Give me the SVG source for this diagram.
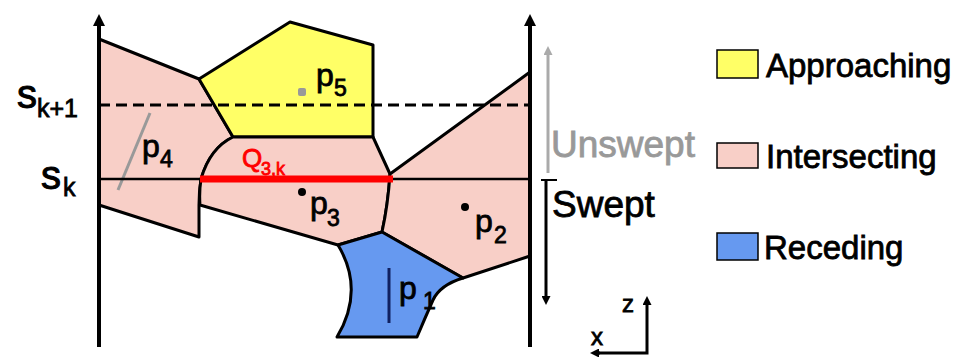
<svg xmlns="http://www.w3.org/2000/svg" width="959" height="357" viewBox="0 0 959 357">
<style>
  text { font-family: "Liberation Sans", Arial, sans-serif; fill: #000; stroke: #000; stroke-width: 0.8; }
  .reg { stroke: #000; stroke-width: 3; stroke-linejoin: round; }
  .pink { fill: #f8cfc7; }
  .yellow { fill: #ffff66; }
  .blue { fill: #6699f0; }
  .axis { stroke: #000; stroke-width: 4; fill: none; }
  .big { font-size: 40px; stroke-width: 1; }
  .sub { font-size: 25px; }
  .p { font-size: 32px; }
  .ps { font-size: 23px; }
  .leg { font-size: 33px; }
  .red { fill: #ff0000; stroke: #ff0000; }
  .grey { fill: #999; stroke: #999; }
</style>
<defs>
  <marker id="ah" viewBox="0 0 10 10" refX="0" refY="5" markerWidth="12" markerHeight="12" markerUnits="userSpaceOnUse" orient="auto">
    <path d="M0,0 L10,5 L0,10 z" fill="#000"/>
  </marker>
  <marker id="ahs" viewBox="0 0 10 10" refX="0" refY="5" markerWidth="9" markerHeight="9" markerUnits="userSpaceOnUse" orient="auto">
    <path d="M0,0 L10,5 L0,10 z" fill="#000"/>
  </marker>
  <marker id="ahg" viewBox="0 0 10 10" refX="0" refY="5" markerWidth="9" markerHeight="9" markerUnits="userSpaceOnUse" orient="auto">
    <path d="M0,0 L10,5 L0,10 z" fill="#aaa"/>
  </marker>
</defs>

<g id="p4">
  <path class="reg pink" d="M99,39 L199,79 L233,137 Q210,148 201,179 Q199,192 199,205 L199,237 L99,205 Z"/>
  <line x1="150" y1="113" x2="118" y2="190" stroke="#999" stroke-width="3"/>
  <text class="p" x="142" y="157">p</text><text class="ps" x="160" y="167">4</text>
</g>
<g id="p5">
  <path class="reg yellow" d="M199,79 L290,22 L373,45 L373,137 L233,137 Z"/>
  <rect x="298" y="88" width="8" height="8" rx="2" fill="#999"/>
  <text class="p" x="316" y="86">p</text><text class="ps" x="334" y="96">5</text>
</g>
<g id="p3">
  <path class="reg pink" d="M233,137 L373,137 L390,174 Q388,205 382,232 L338,245 L200,205 Q199,192 201,179 Q210,148 233,137 Z"/>
  <circle cx="302" cy="192" r="4" fill="#000"/>
  <text class="p" x="310" y="214">p</text><text class="ps" x="327" y="226">3</text>
</g>
<g id="p2">
  <path class="reg pink" d="M390,174 L530,72 L530,256 L463,278 L382,232 Q388,205 390,174 Z"/>
  <circle cx="465" cy="207" r="4" fill="#000"/>
  <text class="p" x="475" y="232">p</text><text class="ps" x="494" y="243">2</text>
</g>
<g id="p1">
  <path class="reg blue" d="M338,245 L382,232 L463,278 Q440,285 433,300 Q425,318 417,337 L337,337 Q365,290 338,245 Z"/>
  <line x1="389" y1="268" x2="389" y2="323" stroke="#102060" stroke-width="3"/>
  <text class="p" x="399" y="299">p</text><text class="ps" x="423" y="309">1</text>
</g>

<g id="connectors">
  <line x1="99" y1="105" x2="528" y2="105" stroke="#000" stroke-width="3" stroke-dasharray="11,6"/>
  <line x1="99" y1="179" x2="530" y2="179" stroke="#000" stroke-width="2.5"/>
  <line x1="200" y1="179" x2="393" y2="179" stroke="#ff0000" stroke-width="7"/>
  <line class="axis" x1="99" y1="347" x2="99" y2="26" marker-end="url(#ah)"/>
  <line class="axis" x1="530" y1="347" x2="530" y2="26" marker-end="url(#ah)"/>
  <line x1="548" y1="173" x2="548" y2="55" stroke="#aaa" stroke-width="3" marker-end="url(#ahg)"/>
  <line x1="546" y1="180" x2="546" y2="296" stroke="#000" stroke-width="3" marker-end="url(#ahs)"/>
  <line x1="541" y1="180" x2="557" y2="180" stroke="#000" stroke-width="2"/>
  <polyline points="598,353 647,353 647,306" fill="none" stroke="#000" stroke-width="3"/>
  <line x1="647" y1="306" x2="647" y2="305" stroke="#000" stroke-width="3" marker-end="url(#ahs)"/>
  <line x1="600" y1="353" x2="599" y2="353" stroke="#000" stroke-width="3" marker-end="url(#ahs)"/>
</g>

<g id="labels">
  <text class="big" x="17" y="108">s</text><text class="sub" x="37" y="117">k+1</text>
  <text class="big" x="41" y="189">s</text><text class="sub" x="63" y="196">k</text>
  <text class="red" x="242" y="167" font-size="26">Q</text><text class="red" x="261" y="175" font-size="18">3,k</text>
  <text class="grey" x="551" y="157" font-size="37">Unswept</text>
  <text x="552" y="217" font-size="37">Swept</text>
  <text x="622" y="312" font-size="24">z</text>
  <text x="591" y="345" font-size="24">x</text>
</g>

<g id="legend">
  <rect class="yellow" x="717" y="50" width="41" height="28" stroke="#000" stroke-width="1.5"/>
  <text class="leg" x="766" y="77">Approaching</text>
  <rect class="pink" x="717" y="143" width="41" height="25" stroke="#000" stroke-width="1.5"/>
  <text class="leg" x="766" y="168">Intersecting</text>
  <rect class="blue" x="717" y="233" width="41" height="27" stroke="#000" stroke-width="1.5"/>
  <text class="leg" x="764" y="259">Receding</text>
</g>
</svg>
